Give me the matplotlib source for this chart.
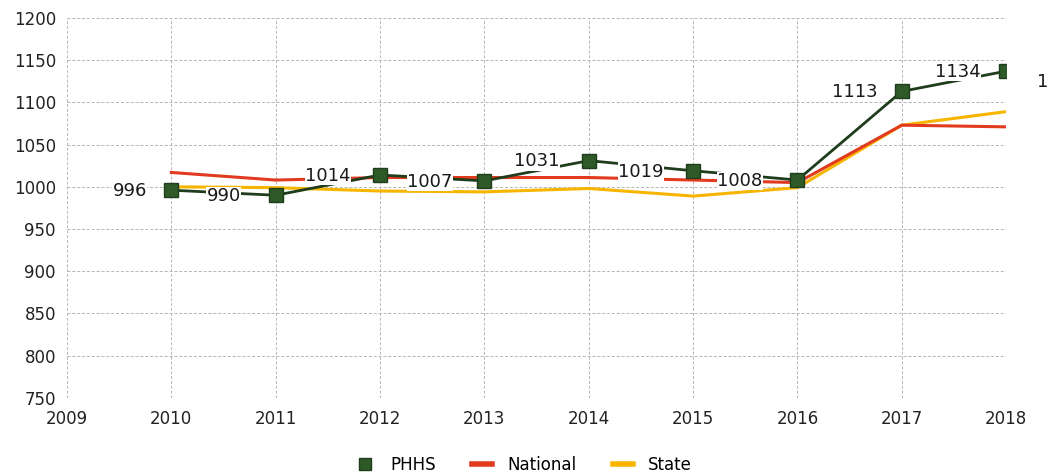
import matplotlib.pyplot as plt
from matplotlib.lines import Line2D

# Values
years = [2010, 2011, 2012, 2013, 2014, 2015, 2016, 2017, 2018]
phhs = [996, 990, 1014, 1007, 1031, 1019, 1008, 1113, 1137]
phhs_labels = ['996', '990', '1014', '1007', '1031', '1019', '1008', '1113', '1134']
label_shift = [-0.40, -0.50, -0.50, -0.52, -0.50, -0.50, -0.55, -0.45, -0.46]
national = [1017, 1008, 1011, 1011, 1011, 1008, 1005, 1073, 1071]
state = [1000, 999, 995, 994, 998, 989, 999, 1073, 1089]

green_line = '#1f3d1c'
green_mark = '#2e5a27'
red = '#e23a1e'
orange = '#f7b500'

fig = plt.figure(figsize=(10.47, 4.72), dpi=100)
ax = fig.add_axes([0.064, 0.157, 0.897, 0.805])

ax.plot(years, state, color=orange, linewidth=2.2, zorder=2)
ax.plot(years, national, color=red, linewidth=2.2, zorder=2)
ax.plot(years, phhs, color=green_line, linewidth=2.0, marker='s', markersize=10,
        markerfacecolor=green_mark, markeredgecolor=green_line, zorder=3)

# value labels sit to the left of each marker, on a white box
for x, y, lab, dx in zip(years, phhs, phhs_labels, label_shift):
    ax.text(x + dx, y - 1, lab, ha='center', va='center', fontsize=13,
            color='#1a1a1a', zorder=4,
            bbox=dict(facecolor='white', edgecolor='none', pad=0.1))
# last label only shows its first digit at the right edge
ax.text(2018.3, 1124, '1', ha='left', va='center', fontsize=13,
        color='#1a1a1a', clip_on=False)

ax.set_xlim(2009, 2018)
ax.set_ylim(750, 1200)
ax.set_xticks(range(2009, 2019))
ax.set_yticks(range(750, 1201, 50))
ax.grid(True, color='#b5b5b5', linestyle=(0, (3, 2)), linewidth=0.7)
for s in ax.spines.values():
    s.set_visible(False)
ax.tick_params(length=0, labelsize=12, colors='#222222')
ax.tick_params(axis='x', pad=9)
ax.tick_params(axis='y', pad=8)

handles = [
    Line2D([], [], linestyle='none', marker='s', markersize=9,
           markerfacecolor=green_mark, markeredgecolor=green_line),
    Line2D([], [], color=red, linewidth=4),
    Line2D([], [], color=orange, linewidth=4),
]
fig.legend(handles, ['PHHS', 'National', 'State'], loc='lower center',
           bbox_to_anchor=(0.5, -0.035), ncol=3, frameon=False, fontsize=12,
           handlelength=1.2, columnspacing=2.2, handletextpad=0.9)

fig.savefig('out.png', dpi=100)
